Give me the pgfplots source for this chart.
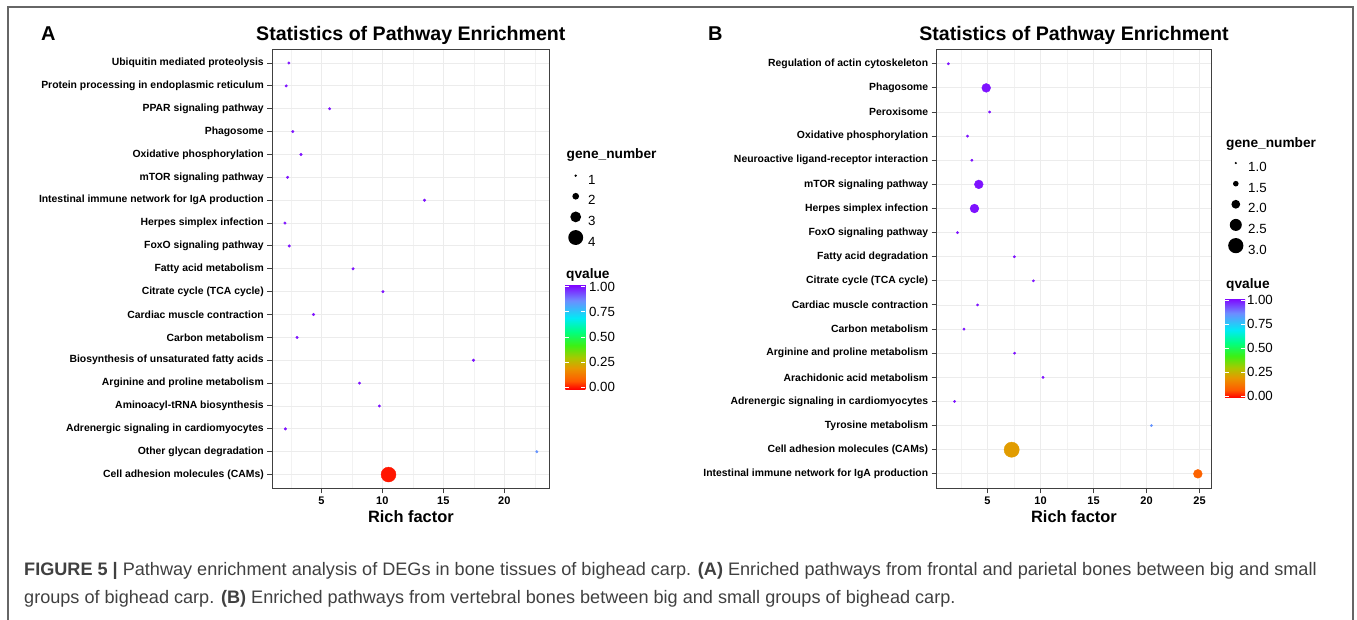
\documentclass[border=0pt]{standalone}
\usepackage{fontspec}
\setmainfont{Liberation Sans}
\usepackage{pgfplots}
\pgfplotsset{compat=1.18}
\usepackage{pgfplotstable}

\pgfplotsset{
  colormap={qv}{[1pt] rgb255(0pt)=(255,0,0) rgb255(8pt)=(255,90,0) rgb255(20pt)=(232,150,0) rgb255(30pt)=(170,200,0) rgb255(42pt)=(60,240,20) rgb255(55pt)=(0,255,130) rgb255(68pt)=(0,235,245) rgb255(85pt)=(110,140,255) rgb255(100pt)=(128,0,255)},
  enrich/.style={
    scale only axis, height=439pt, ymin=0.4,
    colormap name=qv, point meta min=-0.02, point meta max=1.02,
    tick align=outside, major tick length=5pt, minor tick length=0pt,
    xtick pos=left, ytick pos=left,
    grid=major, xminorgrids=true,
    major grid style={gray!15, line width=0.9pt},
    minor grid style={gray!10, line width=0.5pt},
    axis line style={black!75, line width=1.2pt},
    tick style={black!75, line width=1pt},
    /pgf/number format/assume math mode=true,
    yticklabel style={font=\bfseries\fontsize{10.4}{12}\selectfont, text=black},
    xticklabel style={font=\bfseries\fontsize{11}{12}\selectfont, text=black},
    title={Statistics of Pathway Enrichment},
    title style={font=\bfseries\fontsize{19.6}{22}\selectfont, at={(0.5,1)}, anchor=base, yshift=2.6pt},
    xlabel={Rich factor},
    xlabel style={font=\bfseries\fontsize{16.4}{18}\selectfont, at={(0.5,0)}, anchor=base, yshift=-34.4pt},
    legend cell align=left,
    legend style={draw=none, fill=none, inner sep=0pt, outer sep=0pt, row sep=3pt,
      font=\fontsize{13.3}{14}\selectfont, anchor=north west,
      nodes={inner sep=0pt},
      /tikz/every odd column/.append style={column sep=4.8pt}},
    colorbar,
    colorbar/width=20pt,
    colorbar style={
      scale only axis,
      at={(parent axis.north east)}, anchor=north west,
      width=20pt,
      ytick={0,0.25,0.5,0.75,1},
      yticklabels={0.00,0.25,0.50,0.75,1.00},
      yticklabel style={font=\fontsize{13.3}{14}\selectfont, inner sep=0pt, text=black},
      major tick length=4pt, tick align=inside, ytick pos=both, yticklabel pos=right,
      ytick style={white, line width=0.8pt},
      axis line style={draw=none},
      xlabel={}, title={}
    },
  },
  dots/.style={scatter, only marks, mark=*, point meta=\thisrow{q},
    scatter/use mapped color={draw=mapped color, fill=mapped color}},
}
\newcommand{\legdot}[1]{\addlegendimage{legend image code/.code={\path[draw=none,fill=none] (-7.5pt,-2.75pt) rectangle (7.5pt,12.25pt); \fill[black, draw=none] (0pt,4.75pt) circle (#1);}}}

\pgfplotstableread{
x y q g
2.34 19 1.00 1
2.12 18 1.00 1
5.68 17 1.00 1
2.66 16 1.00 1
3.33 15 1.00 1
2.23 14 1.00 1
13.46 13 1.00 1
2.02 12 1.00 1
2.37 11 1.00 1
7.60 10 1.00 1
10.05 9 1.00 1
4.36 8 1.00 1
3.01 7 1.00 1
17.48 6 1.00 1
8.13 5 1.00 1
9.76 4 1.00 1
2.05 3 1.00 1
22.67 2 0.85 1
10.51 1 0.00 4
}\dataA

\pgfplotstableread{
x y q g
1.31 18 1.00 1
4.88 17 1.00 2
5.20 16 1.00 1
3.11 15 1.00 1
3.52 14 1.00 1
4.18 13 1.00 2
3.77 12 1.00 2
2.17 11 1.00 1
7.53 10 1.00 1
9.33 9 1.00 1
4.06 8 1.00 1
2.78 7 1.00 1
7.55 6 1.00 1
10.24 5 1.00 1
1.89 4 1.00 1
20.46 3 0.85 1
7.28 2 0.20 3
24.84 1 0.08 2
}\dataB

\begin{document}
\begin{tikzpicture}[x=1pt,y=1pt]
\path[use as bounding box] (0,0) rectangle (1357,619);
\draw[black!60, line width=1.3pt] (8,-5) -- (8,612) -- (1353,612) -- (1353,-5);

% ---------- Panel A ----------
\begin{axis}[enrich,
  at={(272.3pt,569.7pt)}, anchor=north west,
  width=277.1pt, xmin=0.98, xmax=23.7, ymax=19.6,
  xtick={5,10,15,20}, minor xtick={2.5,7.5,12.5,17.5,22.5},
  ytick={1,...,19},
  yticklabels={{Cell adhesion molecules (CAMs)},{Other glycan degradation},{Adrenergic signaling in cardiomyocytes},{Aminoacyl-tRNA biosynthesis},{Arginine and proline metabolism},{Biosynthesis of unsaturated fatty acids},{Carbon metabolism},{Cardiac muscle contraction},{Citrate cycle (TCA cycle)},{Fatty acid metabolism},{FoxO signaling pathway},{Herpes simplex infection},{Intestinal immune network for IgA production},{mTOR signaling pathway},{Oxidative phosphorylation},{Phagosome},{PPAR signaling pathway},{Protein processing in endoplasmic reticulum},{Ubiquitin mediated proteolysis}},
  legend style={at={(1.0679,0.7292)}},
  colorbar style={xshift=7.46pt, yshift=-235.4pt, height=104.6pt,
    yticklabel style={xshift=3.5pt}},
]
\addplot[dots, forget plot,
  visualization depends on={1.3+2.05*(\thisrow{g}-1) \as \rr},
  scatter/@pre marker code/.append style={/tikz/mark size=\rr}]
  table[x=x,y=y] {\dataA};
\legdot{1.3pt}\addlegendentry{1}
\legdot{3.35pt}\addlegendentry{2}
\legdot{5.4pt}\addlegendentry{3}
\legdot{7.45pt}\addlegendentry{4}
\end{axis}

% ---------- Panel B ----------
\begin{axis}[enrich,
  at={(936.7pt,569.7pt)}, anchor=north west,
  width=274.5pt, xmin=0.21, xmax=26.1, ymax=18.6,
  xtick={5,10,15,20,25}, minor xtick={2.5,7.5,12.5,17.5,22.5},
  ytick={1,...,18},
  yticklabels={{Intestinal immune network for IgA production},{Cell adhesion molecules (CAMs)},{Tyrosine metabolism},{Adrenergic signaling in cardiomyocytes},{Arachidonic acid metabolism},{Arginine and proline metabolism},{Carbon metabolism},{Cardiac muscle contraction},{Citrate cycle (TCA cycle)},{Fatty acid degradation},{FoxO signaling pathway},{Herpes simplex infection},{mTOR signaling pathway},{Neuroactive ligand-receptor interaction},{Oxidative phosphorylation},{Peroxisome},{Phagosome},{Regulation of actin cytoskeleton}},
  legend style={at={(1.0619,0.758)}},
  colorbar style={xshift=5.26pt, yshift=-248.8pt, height=99.8pt,
    yticklabel style={xshift=1.8pt}},
]
\addplot[dots, forget plot,
  visualization depends on={1.2+3.2*(\thisrow{g}-1) \as \rr},
  scatter/@pre marker code/.append style={/tikz/mark size=\rr}]
  table[x=x,y=y] {\dataB};
\legdot{1.2pt}\addlegendentry{1.0}
\legdot{2.8pt}\addlegendentry{1.5}
\legdot{4.4pt}\addlegendentry{2.0}
\legdot{6.0pt}\addlegendentry{2.5}
\legdot{7.6pt}\addlegendentry{3.0}
\end{axis}

% panel letters and legend titles
\node[anchor=base west, inner sep=0pt, font=\bfseries\fontsize{20}{22}\selectfont] at (41,578.3) {A};
\node[anchor=base west, inner sep=0pt, font=\bfseries\fontsize{20}{22}\selectfont] at (708,578.3) {B};
\node[anchor=base west, inner sep=0pt, font=\bfseries\fontsize{13.7}{15}\selectfont] at (566.5,460.5) {gene\_number};
\node[anchor=base west, inner sep=0pt, font=\bfseries\fontsize{13.7}{15}\selectfont] at (566,340.7) {qvalue};
\node[anchor=base west, inner sep=0pt, font=\bfseries\fontsize{13.7}{15}\selectfont] at (1226,471.7) {gene\_number};
\node[anchor=base west, inner sep=0pt, font=\bfseries\fontsize{13.7}{15}\selectfont] at (1226,330.7) {qvalue};

% caption
\node[anchor=base west, inner sep=0pt, text=black!75, font=\fontsize{18.1}{20}\selectfont] at (24,44)
 {\textbf{FIGURE 5 |} Pathway enrichment analysis of DEGs in bone tissues of bighead carp. \textbf{(A)} Enriched pathways from frontal and parietal bones between big and small};
\node[anchor=base west, inner sep=0pt, text=black!75, font=\fontsize{18.1}{20}\selectfont] at (24,15.7)
 {groups of bighead carp. \textbf{(B)} Enriched pathways from vertebral bones between big and small groups of bighead carp.};
\end{tikzpicture}
\end{document}
